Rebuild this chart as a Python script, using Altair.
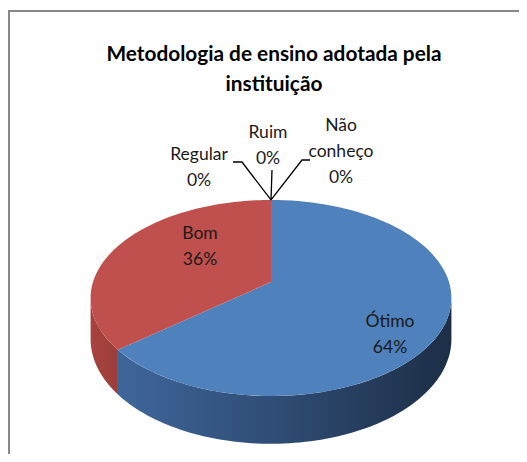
import math
import altair as alt
import pandas as pd

# ---------------- data ----------------
CATEGORIAS = ["Ótimo", "Bom", "Regular", "Ruim", "Não conheço"]
VALORES = [64, 36, 0, 0, 0]
ROTULOS = ["Ótimo", "Bom", "Regular", "Ruim", "Não\nconheço"]
TITULO = ["Metodologia de ensino adotada pela", "instituição"]

# ---------------- layout (pixel space of the page) ----------------
CX, CY, RX, RY, K, H = 271.0, 282.0, 178.0, 95.4, 0.163, 40.0
N = 90
TOP_COLORS = {"Ótimo": "#4f81bd", "Bom": "#c0504d"}
SIDE_FILL = {
    "Ótimo": {"gradient": "linear", "x1": 0, "x2": 1, "y1": 0, "y2": 0,
              "stops": [{"offset": 0, "color": "#3f669b"},
                        {"offset": 0.5, "color": "#2e4b72"},
                        {"offset": 1, "color": "#1d2e46"}]},
    "Bom": {"gradient": "linear", "x1": 0, "x2": 1, "y1": 0, "y2": 0,
            "stops": [{"offset": 0, "color": "#a8433f"},
                      {"offset": 1, "color": "#9b3d3a"}]},
}
LABEL_POS = {"Ótimo": (390, 327), "Bom": (200, 239), "Regular": (199, 160),
             "Ruim": (268, 138), "Não conheço": (341, 131)}
LEADER_ELBOWS = {"Regular": [(242, 162), (233, 162)],
                 "Ruim": [(272, 170)],
                 "Não conheço": [(302, 160), (310, 160)]}
FONT = "Lato"

W, HT = 511, 446
xs = alt.Scale(domain=[8, 8 + W], nice=False, zero=False)
ys = alt.Scale(domain=[8 + HT, 8], nice=False, zero=False)


def X(f):
    return alt.X(f, type="quantitative", scale=xs, axis=None)


def Y(f):
    return alt.Y(f, type="quantitative", scale=ys, axis=None)


slices = pd.DataFrame({"cat": CATEGORIAS, "value": VALORES,
                       "ord": list(range(len(CATEGORIAS)))})

base = alt.Chart(slices).transform_joinaggregate(
    total="sum(value)"
).transform_window(
    cum="sum(value)", sort=[alt.SortField("ord")], frame=[None, 0]
).transform_calculate(
    a0="2*PI*(datum.cum - datum.value)/datum.total",
    a1="2*PI*datum.cum/datum.total",
)

# projection expressions
def proj(ang, r):
    u = f"({r})*sin({ang})"
    v = f"(-({r})*cos({ang}))"
    d = f"(1 - {K}*{v})"
    return f"{CX} + {RX}*{u}/{d}", f"{CY} + {RY}*{v}/{d}", d

# ---- side faces ----
amin = f"acos(-{K})"
amax = f"(2*PI - acos(-{K}))"
side = base.transform_calculate(
    s0=f"max(datum.a0, {amin})", s1=f"min(datum.a1, {amax})"
).transform_filter("datum.s1 > datum.s0").transform_calculate(
    seq=f"sequence(0, {2 * N + 2})"
).transform_flatten(["seq"]).transform_calculate(
    t=f"datum.seq <= {N} ? datum.seq/{N} : ({2 * N + 1} - datum.seq)/{N}",
    bot=f"datum.seq > {N} ? 1 : 0",
).transform_calculate(
    ang="datum.s0 + (datum.s1 - datum.s0)*datum.t"
)
sx, sy, sd = proj("datum.ang", "1")
side = side.transform_calculate(
    px=sx, py=f"{sy} + datum.bot*{H}/{sd}"
)

# ---- top faces ----
top = base.transform_filter("datum.value > 0").transform_calculate(
    seq=f"sequence(0, {N + 2})"
).transform_flatten(["seq"]).transform_calculate(
    r="datum.seq == 0 ? 0 : 1",
    ang=f"datum.a0 + (datum.a1 - datum.a0)*max(datum.seq - 1, 0)/{N}",
)
tx, ty, td = proj("datum.ang", "datum.r")
top = top.transform_calculate(px=tx, py=ty)

layers = []
for cat in ["Ótimo", "Bom"]:
    layers.append(
        side.transform_filter(alt.datum.cat == cat).mark_line(
            fill=SIDE_FILL[cat], strokeWidth=0, strokeOpacity=0
        ).encode(x=X("px"), y=Y("py"), order=alt.Order("seq:Q"))
    )
for cat in ["Ótimo", "Bom"]:
    layers.append(
        top.transform_filter(alt.datum.cat == cat).mark_line(
            fill=TOP_COLORS[cat], strokeWidth=0, strokeOpacity=0
        ).encode(x=X("px"), y=Y("py"), order=alt.Order("seq:Q"))
    )

# ---- leader lines for zero slices ----
def project_py(ang, r=1.0):
    u = r * math.sin(ang)
    v = -r * math.cos(ang)
    d = 1 - K * v
    return CX + RX * u / d, CY + RY * v / d

tot = sum(VALORES)
rows = []
cum = 0
for cat, val in zip(CATEGORIAS, VALORES):
    a0 = 2 * math.pi * cum / tot
    cum += val
    a1 = 2 * math.pi * cum / tot
    if cat in LEADER_ELBOWS:
        ax, ay = project_py((a0 + a1) / 2)
        pts = [(ax, ay)] + LEADER_ELBOWS[cat]
        for i, (px, py) in enumerate(pts):
            rows.append({"cat": cat, "seq": i, "px": px, "py": py})
leaders = alt.Chart(pd.DataFrame(rows)).mark_line(
    color="#000000", strokeWidth=1.3
).encode(x=X("px"), y=Y("py"), detail="cat:N", order=alt.Order("seq:Q"))
layers.append(leaders)

# ---- data labels ----
lab = pd.DataFrame({"cat": CATEGORIAS, "rot": ROTULOS, "value": VALORES,
                    "lx": [LABEL_POS[c][0] for c in CATEGORIAS],
                    "ly": [LABEL_POS[c][1] for c in CATEGORIAS]})
labels = alt.Chart(lab).transform_joinaggregate(
    total="sum(value)"
).transform_calculate(
    txt="datum.rot + '\\n' + format(datum.value/datum.total, '.0%')"
).mark_text(
    font=FONT, fontSize=17.5, lineHeight=26, lineBreak="\n",
    align="center", baseline="alphabetic", color="#1a1a1a"
).encode(x=X("lx"), y=Y("ly"), text="txt:N")
layers.append(labels)

# ---- title ----
tdf = pd.DataFrame({"t": TITULO, "tx": [274, 274], "ty": [61, 91]})
title = alt.Chart(tdf).mark_text(
    font=FONT, fontSize=20.8, fontWeight="bold", align="center",
    baseline="alphabetic", color="#000000"
).encode(x=X("tx"), y=Y("ty"), text="t:N")
layers.append(title)

# ---- frame ----
frame_top = alt.Chart(slices).mark_rule(color="#888888", strokeWidth=2).encode(
    x=alt.value(0), x2=alt.value(W), y=alt.value(3))
frame_left = alt.Chart(slices).mark_rule(color="#888888", strokeWidth=2).encode(
    x=alt.value(1), y=alt.value(2), y2=alt.value(HT))
layers += [frame_top, frame_left]

chart = alt.layer(*layers).properties(
    width=W, height=HT, padding=0, autosize=alt.AutoSizeParams(type="none"),
    background="#ffffff"
).configure_view(stroke=None)

chart.save("out.html", embed_options={"renderer": "svg", "actions": False})
